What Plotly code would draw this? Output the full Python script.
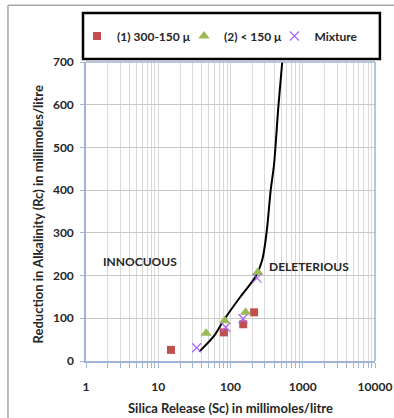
import numpy as np
import plotly.graph_objects as go

# Data
sq_x = [15, 81, 150, 212]
sq_y = [26, 67, 86, 114]
tri_x = [46, 83, 162, 239]
tri_y = [65, 94, 114, 208]
mix_x = [34, 86, 149, 233]
mix_y = [31, 79, 99, 194]
curve_x = [37, 60, 81, 138, 222, 275, 300, 323, 360, 400, 460, 520]
curve_y = [22, 60, 96, 151, 197, 237, 272, 315, 400, 459, 596, 700]

decades = [1, 10, 100, 1000, 10000]
tick_vals = [d * k for d in decades[:-1] for k in range(1, 10)] + [10000]
tick_text = [str(v) if v in decades else "" for v in tick_vals]

FONT = "Lato"
TXT = "#262626"
AXIS = "#9fb3d6"


def bold(size):
    return dict(family=FONT, size=size, color=TXT, weight="bold")


fig = go.Figure()
fig.add_trace(go.Scatter(x=curve_x, y=curve_y, mode="lines",
                         line=dict(color="black", width=2, shape="spline", smoothing=0.8),
                         showlegend=False, hoverinfo="skip"))
fig.add_trace(go.Scatter(x=sq_x, y=sq_y, mode="markers", name="(1) 300-150 μ",
                         legend="legend",
                         marker=dict(symbol="square", size=8, color="#c0504d")))
fig.add_trace(go.Scatter(x=tri_x, y=tri_y, mode="markers", name="(2) < 150 μ",
                         legend="legend2",
                         marker=dict(symbol="triangle-up", size=10, color="#9bbb59")))
fig.add_trace(go.Scatter(x=mix_x, y=mix_y, mode="markers", name="Mixture",
                         legend="legend3",
                         marker=dict(symbol="x-thin-open", size=9,
                                     line=dict(color="#aa9fd4", width=1.2))))

leg_common = dict(orientation="h", y=1.087, xanchor="left", yanchor="middle",
                  font=bold(12), bgcolor="rgba(0,0,0,0)", borderwidth=0, itemwidth=30)

fig.update_layout(
    width=394, height=418,
    margin=dict(l=86, r=19, t=62, b=57, autoexpand=False),
    paper_bgcolor="white", plot_bgcolor="white",
    font=dict(family=FONT, size=12, color=TXT),
    showlegend=True,
    legend=dict(x=-0.031, **leg_common),
    legend2=dict(x=0.339, **leg_common),
    legend3=dict(x=0.652, **leg_common),
    xaxis=dict(type="log", range=[0, 4], tickvals=tick_vals, ticktext=tick_text,
               showgrid=True, gridcolor="#d9d9d9", gridwidth=1,
               showline=True, linecolor=AXIS, linewidth=1.5, mirror=False,
               ticks="outside", ticklen=5, tickcolor=AXIS,
               tickfont=bold(12), ticklabelstandoff=9, zeroline=False),
    yaxis=dict(range=[0, 700], dtick=100, showgrid=True, gridcolor="#c8c8c8",
               showline=True, linecolor=AXIS, linewidth=1.5,
               ticks="outside", ticklen=4, tickcolor=AXIS,
               tickfont=bold(12), ticklabelstandoff=4, zeroline=False),
)

# right/top edge lines of plot area (blue-grey)
fig.add_shape(type="line", xref="paper", yref="paper", x0=1, x1=1, y0=0, y1=1,
              line=dict(color=AXIS, width=1.5))
fig.add_shape(type="line", xref="paper", yref="paper", x0=0, x1=1, y0=1, y1=1,
              line=dict(color=AXIS, width=1.5))
# legend box
fig.add_shape(type="rect", xref="paper", yref="paper",
              x0=-0.0104, x1=1.017, y0=1.010, y1=1.164,
              line=dict(color="black", width=2.5), fillcolor="rgba(0,0,0,0)")
# outer chart border (top and left)
fig.add_shape(type="line", xref="paper", yref="paper", x0=-0.27, x1=1.07, y0=1.19, y1=1.19,
              line=dict(color="#a6a6a6", width=1.5))
fig.add_shape(type="line", xref="paper", yref="paper", x0=-0.27, x1=-0.27, y0=-0.2, y1=1.19,
              line=dict(color="#a6a6a6", width=1.5))

# axis titles
fig.add_annotation(xref="paper", yref="paper", x=0.5, y=-0.157,
                   xanchor="center", yanchor="middle",
                   text="Silica Release (Sc) in millimoles/litre", showarrow=False,
                   font=bold(13))
fig.add_annotation(xref="paper", yref="paper", x=-0.163, y=0.49, textangle=-90,
                   xanchor="center", yanchor="middle",
                   text="Reduction in Alkalinity (Rc) in millimoles/litre", showarrow=False,
                   font=bold(13))

fig.add_annotation(x=np.log10(5.6), y=232, text="INNOCUOUS", showarrow=False, font=bold(12))
fig.add_annotation(x=np.log10(1210), y=222, text="DELETERIOUS", showarrow=False, font=bold(12))

fig.write_html("out.html", config={"displayModeBar": False},
               post_script="document.body.style.margin='0';")
